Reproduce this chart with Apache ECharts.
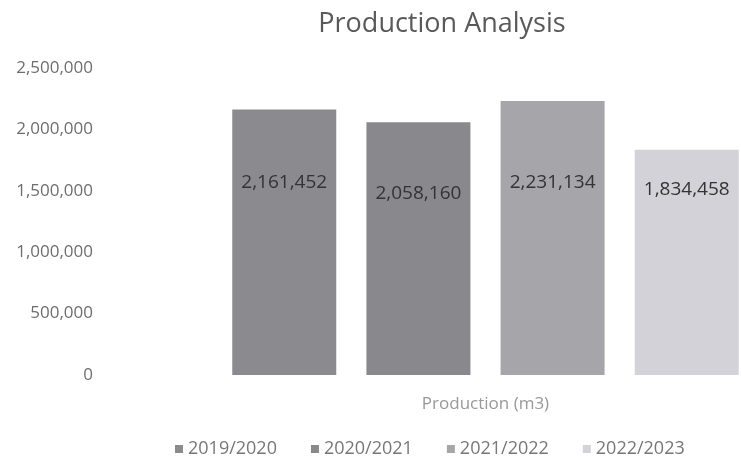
<!DOCTYPE html>
<html>
<head>
<meta charset="utf-8">
<script src="https://cdn.jsdelivr.net/npm/echarts@6/dist/echarts.min.js"></script>
<style>
  html, body { margin: 0; padding: 0; background: #fff; }
  #main { width: 741px; height: 459px; }
</style>
</head>
<body>
<div id="main"></div>
<script>
const categories = ['Production (m3)']
const seasons = ['2019/2020', '2020/2021', '2021/2022', '2022/2023']
const production = [2161452, 2058160, 2231134, 1834458]
const colors = ['#8b8b8f', '#89898d', '#a5a5aa', '#d2d2d8']
const labelDistance = [64, 62, 72, 30]

const fmt = v => v.toLocaleString('en-US')

const chart = echarts.init(document.getElementById('main'))

const series = seasons.map((name, i) => ({
  name: name,
  type: 'bar',
  data: [production[i]],
  barWidth: 104,
  barGap: '29%',
  itemStyle: { color: colors[i] },
  label: {
    show: true,
    position: 'insideTop',
    distance: labelDistance[i],
    formatter: p => fmt(p.value),
    color: '#333',
    fontSize: 19,
    fontFamily: 'Open Sans'
  }
}))

chart.setOption({
  animation: false,
  title: {
    text: 'Production Analysis',
    left: 437,
    textAlign: 'center',
    top: 6,
    textStyle: { fontFamily: 'Open Sans', fontWeight: 'normal', fontSize: 27, color: '#595959' }
  },
  legend: {
    data: seasons,
    top: 435,
    left: 170,
    icon: 'rect',
    itemWidth: 8,
    itemHeight: 8,
    itemGap: 34,
    textStyle: { fontFamily: 'Open Sans', fontSize: 18, color: '#777' }
  },
  grid: { left: 230, right: 0, top: 68, bottom: 84 },
  xAxis: {
    type: 'category',
    data: categories,
    axisLine: { show: false },
    axisTick: { show: false },
    axisLabel: { margin: 21, fontFamily: 'Open Sans', fontSize: 17, color: '#999' }
  },
  yAxis: {
    type: 'value',
    min: 0,
    max: 2500000,
    interval: 500000,
    splitLine: { show: false },
    axisLine: { show: false },
    axisTick: { show: false },
    axisLabel: {
      margin: 137,
      formatter: v => fmt(v),
      fontFamily: 'Open Sans',
      fontSize: 17,
      color: '#6e6e6e'
    }
  },
  series: series
})
</script>
</body>
</html>
